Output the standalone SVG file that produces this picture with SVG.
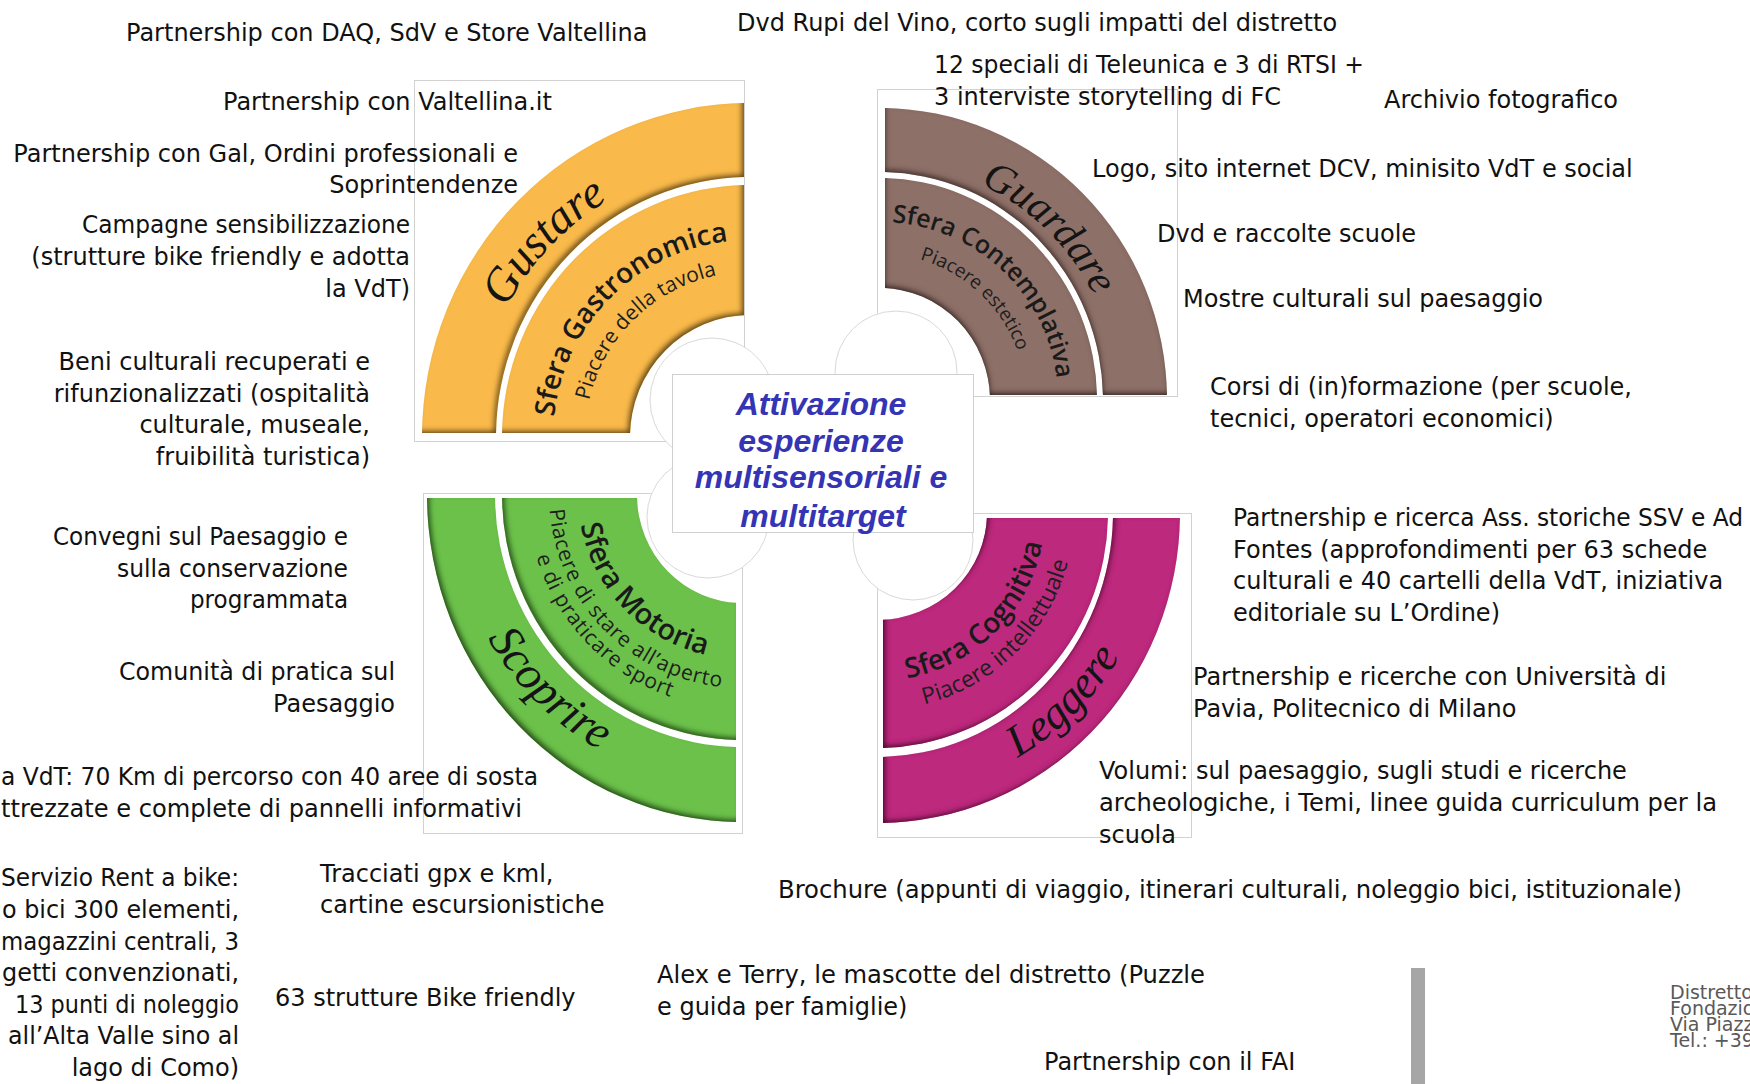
<svg xmlns="http://www.w3.org/2000/svg" width="1750" height="1084" viewBox="0 0 1750 1084">
<style>
.t{font-family:"DejaVu Sans",sans-serif;font-size:24px;fill:#111}
.e{text-anchor:end}
.box{fill:none;stroke:#d2d2d2;stroke-width:1}
.circ{fill:#fff;stroke:#d9d9d9;stroke-width:1}
.scr{font-family:"Liberation Serif",serif;font-style:italic;fill:#141414}
.sf{font-family:"Open Sans",sans-serif;font-weight:600;fill:#1a1a1a}
.pc{font-family:"Open Sans",sans-serif;font-weight:500;fill:#1e1e1e}
.ttl{font-family:"Liberation Sans",Arial,sans-serif;font-weight:bold;font-style:italic;font-size:32px;fill:#3434b4;text-anchor:middle}
.adr{font-family:"DejaVu Sans",sans-serif;font-size:19px;fill:#595959}
</style>
<defs>
<filter id="shO" x="-10%" y="-10%" width="120%" height="120%">
<feGaussianBlur in="SourceAlpha" stdDeviation="2.5" result="b"/><feOffset in="b" dx="-3" dy="-3" result="o"/>
<feComposite in="SourceAlpha" in2="o" operator="out" result="e"/><feFlood flood-color="#1a1000" flood-opacity="0.85"/>
<feComposite in2="e" operator="in" result="s"/><feMerge><feMergeNode in="SourceGraphic"/><feMergeNode in="s"/></feMerge>
</filter>
<filter id="shB" x="-10%" y="-10%" width="120%" height="120%">
<feGaussianBlur in="SourceAlpha" stdDeviation="2.5" result="b"/><feOffset in="b" dx="1" dy="-3" result="o"/>
<feComposite in="SourceAlpha" in2="o" operator="out" result="e"/><feFlood flood-color="#100806" flood-opacity="0.85"/>
<feComposite in2="e" operator="in" result="s"/><feMerge><feMergeNode in="SourceGraphic"/><feMergeNode in="s"/></feMerge>
</filter>
<filter id="shG" x="-10%" y="-10%" width="120%" height="120%">
<feGaussianBlur in="SourceAlpha" stdDeviation="2.5" result="b"/><feOffset in="b" dx="3" dy="-3" result="o"/>
<feComposite in="SourceAlpha" in2="o" operator="out" result="e"/><feFlood flood-color="#061a02" flood-opacity="0.85"/>
<feComposite in2="e" operator="in" result="s"/><feMerge><feMergeNode in="SourceGraphic"/><feMergeNode in="s"/></feMerge>
</filter>
<filter id="shM" x="-10%" y="-10%" width="120%" height="120%">
<feGaussianBlur in="SourceAlpha" stdDeviation="2.5" result="b"/><feOffset in="b" dx="3" dy="-3" result="o"/>
<feComposite in="SourceAlpha" in2="o" operator="out" result="e"/><feFlood flood-color="#1a0010" flood-opacity="0.85"/>
<feComposite in2="e" operator="in" result="s"/><feMerge><feMergeNode in="SourceGraphic"/><feMergeNode in="s"/></feMerge>
</filter>
<clipPath id="cO"><rect x="400" y="60" width="344" height="373"/></clipPath>
<clipPath id="cB"><rect x="885" y="80" width="300" height="315"/></clipPath>
<clipPath id="cG"><rect x="400" y="498" width="336" height="340"/></clipPath>
<clipPath id="cM"><rect x="883" y="518" width="320" height="320"/></clipPath>
<path id="pGus" d="M 481.6 372.6 A 276 276 0 0 1 671.6 172.4"/>
<path id="pSGa" d="M 553.7 420.7 A 197 197 0 0 1 732 240.8"/>
<path id="pPGa" d="M 585.8 420.9 A 165 165 0 0 1 737.3 272.5"/>
<path id="pGua" d="M 919.3 165.3 A 238 238 0 0 1 1114 356.6"/>
<path id="pSCo" d="M 884.7 222.1 A 178 178 0 0 1 1057.5 386"/>
<path id="pPCo" d="M 887.9 254.2 A 146 146 0 0 1 1024.9 382.5"/>
<path id="pSco" d="M 460.1 571.3 A 292 292 0 0 0 667.2 777.2"/>
<path id="pSMo" d="M 578.3 505 A 164 164 0 0 0 734.8 658.8"/>
<path id="pPMo" d="M 549 495.7 A 193 193 0 0 0 735.8 687.9"/>
<path id="pEMo" d="M 528 511.9 A 214 214 0 0 0 721.3 708"/>
<path id="pLeg" d="M 948.6 785.8 A 282 282 0 0 0 1149 587.4"/>
<path id="pSCg" d="M 891.6 680.4 A 168 168 0 0 0 1044.4 527.6"/>
<path id="pPCg" d="M 886.6 709.8 A 197 197 0 0 0 1073.7 524"/>
</defs>
<rect width="1750" height="1084" fill="#fff"/>

<g id="boxes">
<rect class="box" x="414.5" y="80.5" width="330" height="361"/>
<rect class="box" x="877.5" y="89.5" width="300" height="307"/>
<rect class="box" x="423.5" y="493.5" width="319" height="340"/>
<rect class="box" x="877.5" y="513.5" width="314" height="324"/>
</g>

<g id="gustare">
<g filter="url(#shO)"><g clip-path="url(#cO)" fill="#f9b94b">
<path d="M 422 437 A 328 334 0 0 1 750 103 L 750 177 A 254 260 0 0 0 496 437 Z"/>
<path d="M 502 437 A 248 252 0 0 1 750 185 L 750 315 A 120 122 0 0 0 630 437 Z"/>
</g></g>
<text class="scr" font-size="47"><textPath href="#pGus" startOffset="50%" text-anchor="middle">Gustare</textPath></text>
<text class="sf" font-size="28"><textPath href="#pSGa" startOffset="50%" text-anchor="middle">Sfera Gastronomica</textPath></text>
<text class="pc" font-size="21"><textPath href="#pPGa" startOffset="50%" text-anchor="middle">Piacere della tavola</textPath></text>
</g>

<g id="guardare">
<g filter="url(#shB)"><g clip-path="url(#cB)" fill="#8d7067">
<path d="M 880 108 A 287 292 0 0 1 1167 400 L 1103 400 A 223 228 0 0 0 880 172 Z"/>
<path d="M 880 178 A 217 222 0 0 1 1097 400 L 990 400 A 110 112 0 0 0 880 288 Z"/>
</g></g>
<text class="scr" font-size="42"><textPath href="#pGua" startOffset="50%" text-anchor="middle">Guardare</textPath></text>
<text class="sf" font-size="25"><textPath href="#pSCo" startOffset="50%" text-anchor="middle">Sfera Contemplativa</textPath></text>
<text class="pc" font-size="19" font-weight="400"><textPath href="#pPCo" startOffset="50%" text-anchor="middle">Piacere estetico</textPath></text>
</g>

<g id="scoprire">
<g filter="url(#shG)"><g clip-path="url(#cG)" fill="#6cc14c">
<path d="M 427 495 A 315 327 0 0 0 742 822 L 742 747 A 247 252 0 0 1 495 495 Z"/>
<path d="M 502 495 A 240 245 0 0 0 742 740 L 742 603 A 105 108 0 0 1 637 495 Z"/>
</g></g>
<text class="scr" font-size="47"><textPath href="#pSco" startOffset="50%" text-anchor="middle">Scoprire</textPath></text>
<text class="sf" font-size="29"><textPath href="#pSMo" startOffset="48%" text-anchor="middle">Sfera Motoria</textPath></text>
<text class="pc" font-size="21" letter-spacing="0.8"><textPath href="#pPMo" startOffset="50%" text-anchor="middle">Piacere di stare all’aperto</textPath></text>
<text class="pc" font-size="21" letter-spacing="0.8"><textPath href="#pEMo" startOffset="49%" text-anchor="middle">e di praticare sport</textPath></text>
</g>

<g id="leggere">
<g filter="url(#shM)"><g clip-path="url(#cM)" fill="#bd2a7d">
<path d="M 877 823 A 303 310 0 0 0 1180 513 L 1113 513 A 236 244 0 0 1 877 757 Z"/>
<path d="M 877 748 A 231 235 0 0 0 1108 513 L 987 513 A 110 107 0 0 1 877 620 Z"/>
</g></g>
<text class="scr" font-size="45"><textPath href="#pLeg" startOffset="50%" text-anchor="middle">Leggere</textPath></text>
<text class="sf" font-size="28"><textPath href="#pSCg" startOffset="50%" text-anchor="middle">Sfera Cognitiva</textPath></text>
<text class="pc" font-size="23"><textPath href="#pPCg" startOffset="50%" text-anchor="middle">Piacere intellettuale</textPath></text>
</g>

<g id="centre">
<circle class="circ" cx="712" cy="400" r="62"/>
<circle class="circ" cx="896" cy="372" r="61"/>
<circle class="circ" cx="708" cy="517" r="61"/>
<circle class="circ" cx="913" cy="540" r="60"/>
<rect x="672.5" y="374.5" width="301" height="158" fill="#fff" stroke="#d0d0d0"/>
<text class="ttl" x="821" y="415">Attivazione</text>
<text class="ttl" x="821" y="452">esperienze</text>
<text class="ttl" x="821" y="488">multisensoriali e</text>
<text class="ttl" x="823" y="527">multitarget</text>
</g>

<g id="connectors"></g>

<g id="labels-left">
<text class="t" x="126" y="41">Partnership con DAQ, SdV e Store Valtellina</text>
<text class="t" x="223" y="110">Partnership con Valtellina.it</text>
<text class="t e" x="518" y="162">Partnership con Gal, Ordini professionali e</text>
<text class="t e" x="518" y="193">Soprintendenze</text>
<text class="t e" x="410" y="233" textLength="328" lengthAdjust="spacingAndGlyphs">Campagne sensibilizzazione</text>
<text class="t e" x="410" y="265">(strutture bike friendly e adotta</text>
<text class="t e" x="410" y="297">la VdT)</text>
<text class="t e" x="370" y="370">Beni culturali recuperati e</text>
<text class="t e" x="370" y="402">rifunzionalizzati (ospitalità</text>
<text class="t e" x="370" y="433">culturale, museale,</text>
<text class="t e" x="370" y="465">fruibilità turistica)</text>
<text class="t e" x="348" y="545" textLength="295" lengthAdjust="spacingAndGlyphs">Convegni sul Paesaggio e</text>
<text class="t e" x="348" y="577" textLength="231" lengthAdjust="spacingAndGlyphs">sulla conservazione</text>
<text class="t e" x="348" y="608" textLength="158" lengthAdjust="spacingAndGlyphs">programmata</text>
<text class="t e" x="395" y="680" textLength="276" lengthAdjust="spacingAndGlyphs">Comunità di pratica sul</text>
<text class="t e" x="395" y="712">Paesaggio</text>
<text class="t" x="1" y="785" textLength="537" lengthAdjust="spacingAndGlyphs">a VdT: 70 Km di percorso con 40 aree di sosta</text>
<text class="t" x="1" y="817" textLength="521" lengthAdjust="spacingAndGlyphs">ttrezzate e complete di pannelli informativi</text>
<text class="t" x="1" y="886" textLength="238" lengthAdjust="spacingAndGlyphs">Servizio Rent a bike:</text>
<text class="t" x="2" y="918" textLength="237" lengthAdjust="spacingAndGlyphs">o bici 300 elementi,</text>
<text class="t" x="1" y="950" textLength="238" lengthAdjust="spacingAndGlyphs">magazzini centrali, 3</text>
<text class="t" x="2" y="981" textLength="237" lengthAdjust="spacingAndGlyphs">getti convenzionati,</text>
<text class="t" x="15" y="1013" textLength="224" lengthAdjust="spacingAndGlyphs">13 punti di noleggio</text>
<text class="t" x="8" y="1044" textLength="231" lengthAdjust="spacingAndGlyphs">all’Alta Valle sino al</text>
<text class="t e" x="239" y="1076">lago di Como)</text>
<text class="t" x="320" y="882">Tracciati gpx e kml,</text>
<text class="t" x="320" y="913">cartine escursionistiche</text>
<text class="t" x="275" y="1006">63 strutture Bike friendly</text>
</g>

<g id="labels-right">
<text class="t" x="737" y="31">Dvd Rupi del Vino, corto sugli impatti del distretto</text>
<text class="t" x="934" y="73" textLength="430" lengthAdjust="spacingAndGlyphs">12 speciali di Teleunica e 3 di RTSI +</text>
<text class="t" x="934" y="105">3 interviste storytelling di FC</text>
<text class="t" x="1384" y="108">Archivio fotografico</text>
<text class="t" x="1092" y="177">Logo, sito internet DCV, minisito VdT e social</text>
<text class="t" x="1157" y="242">Dvd e raccolte scuole</text>
<text class="t" x="1183" y="307">Mostre culturali sul paesaggio</text>
<text class="t" x="1210" y="395">Corsi di (in)formazione (per scuole,</text>
<text class="t" x="1210" y="427">tecnici, operatori economici)</text>
<text class="t" x="1233" y="526" textLength="510" lengthAdjust="spacingAndGlyphs">Partnership e ricerca Ass. storiche SSV e Ad</text>
<text class="t" x="1233" y="558">Fontes (approfondimenti per 63 schede</text>
<text class="t" x="1233" y="589">culturali e 40 cartelli della VdT, iniziativa</text>
<text class="t" x="1233" y="621">editoriale su L’Ordine)</text>
<text class="t" x="1193" y="685">Partnership e ricerche con Università di</text>
<text class="t" x="1193" y="717">Pavia, Politecnico di Milano</text>
<text class="t" x="1099" y="779">Volumi: sul paesaggio, sugli studi e ricerche</text>
<text class="t" x="1099" y="811" textLength="618" lengthAdjust="spacingAndGlyphs">archeologiche, i Temi, linee guida curriculum per la</text>
<text class="t" x="1099" y="843">scuola</text>
<text class="t" x="778" y="898" textLength="904" lengthAdjust="spacingAndGlyphs">Brochure (appunti di viaggio, itinerari culturali, noleggio bici, istituzionale)</text>
<text class="t" x="657" y="983" textLength="548" lengthAdjust="spacingAndGlyphs">Alex e Terry, le mascotte del distretto (Puzzle</text>
<text class="t" x="657" y="1015">e guida per famiglie)</text>
<text class="t" x="1044" y="1070">Partnership con il FAI</text>
</g>

<g id="footer">
<rect x="1411" y="968" width="14" height="116" fill="#a6a6a6"/>
<text class="adr" x="1670" y="999">Distretto</text>
<text class="adr" x="1670" y="1015">Fondazio</text>
<text class="adr" x="1670" y="1031">Via Piazz</text>
<text class="adr" x="1670" y="1047">Tel.: +39</text>
</g>
</svg>
